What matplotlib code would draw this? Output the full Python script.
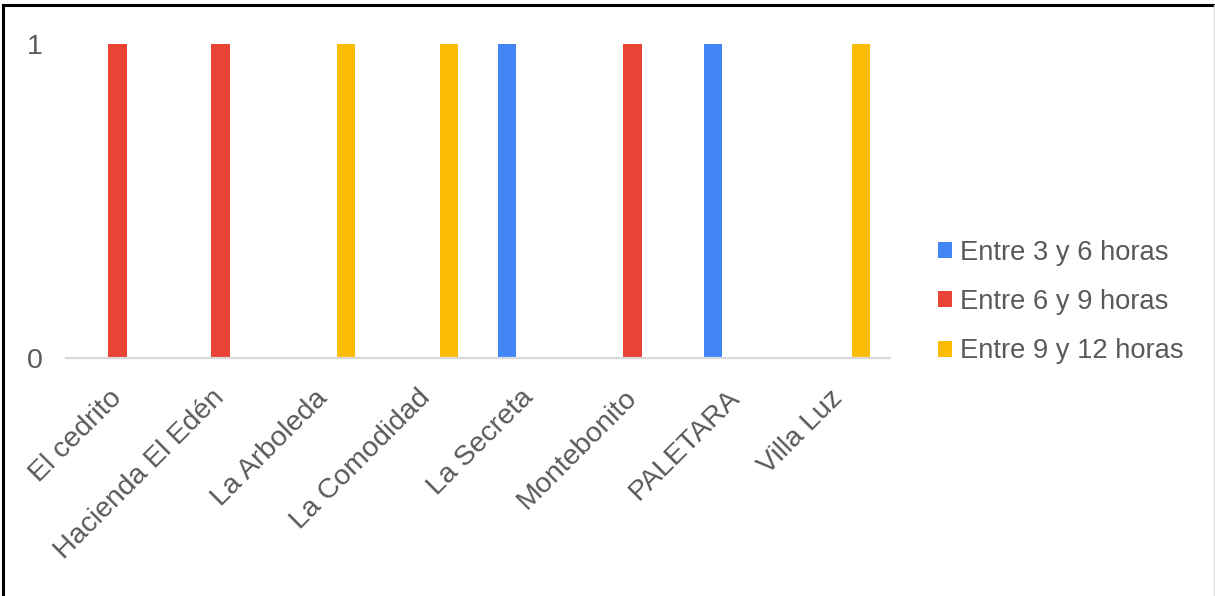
import numpy as np
import matplotlib
matplotlib.use("Agg")
import matplotlib.pyplot as plt
from matplotlib.patches import Patch
from matplotlib.lines import Line2D

plt.rcParams['font.family'] = ['Liberation Sans', 'DejaVu Sans']

# datos
fincas = ["El cedrito", "Hacienda El Edén", "La Arboleda", "La Comodidad",
          "La Secreta", "Montebonito", "PALETARA", "Villa Luz"]
entre_3_6 = [0, 0, 0, 0, 1, 0, 1, 0]
entre_6_9 = [1, 1, 0, 0, 0, 1, 0, 0]
entre_9_12 = [0, 0, 1, 1, 0, 0, 0, 1]
series = ["Entre 3 y 6 horas", "Entre 6 y 9 horas", "Entre 9 y 12 horas"]
colores = ["#4285F4", "#EA4335", "#FBBC04"]

W, H = 1215, 596
fig = plt.figure(figsize=(W / 100, H / 100), dpi=100)
ax = fig.add_axes([66 / W, (H - 358) / H, (890 - 66) / W, (358 - 44) / H])

x = np.arange(len(fincas))
ancho = 0.175
paso = 0.218
for i, (vals, nombre, c) in enumerate(zip([entre_3_6, entre_6_9, entre_9_12], series, colores)):
    ax.bar(x + (i - 1) * paso, vals, width=ancho, color=c, label=nombre)

ax.set_xlim(-0.5, len(fincas) - 0.5)
ax.set_ylim(0, 1)
ax.set_yticks([0, 1])
ax.set_yticklabels(["0", "1"])
ax.set_xticks(x)
ax.set_xticklabels(fincas, rotation=45, ha="right", va="center", rotation_mode="anchor")

txt = "#595959"
ax.tick_params(axis="x", length=0, pad=26, labelsize=20.5, labelcolor=txt)
ax.tick_params(axis="y", length=0, pad=17, labelsize=20.5, labelcolor=txt)
for s in ["top", "right", "left"]:
    ax.spines[s].set_visible(False)
ax.spines["bottom"].set_color("#d9d9d9")
ax.spines["bottom"].set_linewidth(1.6)

handles = [Patch(facecolor=c, edgecolor="none") for c in colores]
fig.legend(handles, series, loc="center left", bbox_to_anchor=(938 / W, (H - 302) / H),
           frameon=False, fontsize=19.7, labelcolor=txt, borderpad=0, borderaxespad=0,
           handlelength=0.52, handleheight=0.52, handletextpad=0.3, labelspacing=0.85)

# marco de la imagen
fig.add_artist(Line2D([3 / W, 3 / W], [0, 1 - 4.5 / H], color="black", lw=2.2, transform=fig.transFigure))
fig.add_artist(Line2D([3 / W, 1], [1 - 4.5 / H, 1 - 4.5 / H], color="black", lw=2.2, transform=fig.transFigure))
fig.add_artist(Line2D([1 - 1.5 / W, 1 - 1.5 / W], [0, 1 - 4.5 / H], color="#dddddd", lw=1, transform=fig.transFigure))

fig.savefig("out.png", dpi=100)
